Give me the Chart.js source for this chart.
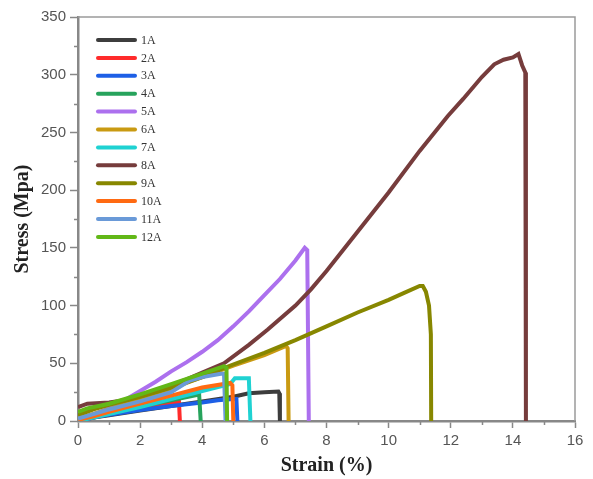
<!DOCTYPE html>
<html>
<head>
<meta charset="utf-8">
<script src="https://cdn.jsdelivr.net/npm/chart.js@4.4.1/dist/chart.umd.min.js"></script>
<style>
html,body{margin:0;padding:0;background:#fff;}
#wrap{width:593px;height:479px;position:relative;}
</style>
</head>
<body>
<div id="wrap"><canvas id="c" width="593" height="479"></canvas></div>
<script>
// ---- data (strain %, stress MPa) ----
const sampleNames = ['1A','2A','3A','4A','5A','6A','7A','8A','9A','10A','11A','12A'];
const curve1A = [[0,0],[0.5,3],[1,5],[2,9],[3,13],[4,17],[5,21],[5.5,24],[6,25],[6.45,25.5],[6.48,24],[6.5,0]];
const curve2A = [[0,0],[0.5,3],[1,6],[2,11],[3,15.5],[3.25,17],[3.28,0]];
const curve3A = [[0,0],[0.5,3],[1,5.5],[2,9.5],[3,13],[4,16],[4.5,18],[5,19],[5.1,19],[5.13,0]];
const curve4A = [[0,0],[0.5,4],[1,7],[2,12.5],[3,18],[3.9,23],[3.95,0]];
const curve5A = [[0,2],[0.5,6],[1,11],[1.5,18],[2,26],[2.5,34],[3,43],[3.5,51],[4,60],[4.5,70],[5,82],[5.5,95],[6,109],[6.5,123],[7,139],[7.3,150],[7.38,148],[7.43,0]];
const curve6A = [[0,2],[1,10],[2,19],[3,28],[4,38],[5,48],[6,57],[6.7,65],[6.75,63],[6.78,0]];
const curve7A = [[0,0],[1,6],[2,12],[3,19],[4,26],[4.9,32],[5.05,37],[5.5,37],[5.55,0]];
const curve8A = [[0,12],[0.3,15],[1,16],[1.5,18],[2,22],[2.5,26],[3,31],[3.5,36],[4,42],[4.7,50],[5.5,66],[6.1,79],[7,100],[7.5,114],[8,130],[9,164],[10,198],[11,234],[11.9,264],[12.4,279],[13,298],[13.4,309],[13.7,313],[14,315],[14.18,318],[14.3,308],[14.4,302],[14.42,0]];
const curve9A = [[0,5],[0.5,10],[1,14],[2,21],[3,29],[4,38],[4.8,47],[6,59],[7,70],[8,82],[9,94],[10,105],[10.5,111],[11,117],[11.1,117],[11.2,112],[11.3,100],[11.36,75],[11.37,0]];
const curve10A = [[0,1],[0.5,4],[1,8],[2,15],[3,22],[4,29],[4.9,33],[4.97,31],[5.0,0]];
const curve11A = [[0,2],[0.5,6],[1,10],[2,17],[3,25],[3.6,35],[4,38],[4.6,41],[4.7,41],[4.75,0]];
const curve12A = [[0,8],[0.3,11],[1,15],[2,23],[3,32],[4,41],[4.7,47.5],[4.78,46],[4.8,0]];
const curves = [curve1A,curve2A,curve3A,curve4A,curve5A,curve6A,curve7A,curve8A,curve9A,curve10A,curve11A,curve12A];
const xTickValues = [0,2,4,6,8,10,12,14,16];
const yTickValues = [0,50,100,150,200,250,300,350];

// ---- styles ----
const seriesColors = ['#3d3d3d','#ff2b2b','#1d5fe6','#27a35c','#ac70ee','#c99a12','#1fd2d2','#763c3c','#878700','#ff6a12','#6a9ad8','#62b817'];

const datasets = curves.map((c, i) => ({
  label: sampleNames[i],
  data: c.map(p => ({x: p[0], y: p[1]})),
  borderColor: seriesColors[i],
  backgroundColor: seriesColors[i],
  borderWidth: 4,
  pointRadius: 0,
  tension: 0,
  fill: false,
  order: curves.length - 1 - i
}));

const framePlugin = {
  id: 'frameAndMinor',
  beforeDatasetsDraw(chart) {
    const ctx = chart.ctx, a = chart.chartArea;
    ctx.save();
    ctx.strokeStyle = '#9a9a9a';
    ctx.lineWidth = 1.5;
    ctx.beginPath();
    ctx.moveTo(a.left, a.top); ctx.lineTo(a.right, a.top); ctx.lineTo(a.right, a.bottom);
    ctx.stroke();
    ctx.restore();
  },
  afterDraw(chart) {
    const ctx = chart.ctx, xs = chart.scales.x, ys = chart.scales.y;
    ctx.save();
    ctx.strokeStyle = '#888';
    ctx.lineWidth = 1.5;
    ctx.beginPath();
    for (let i = 0; i < xTickValues.length - 1; i++) {
      const v = (xTickValues[i] + xTickValues[i+1]) / 2;
      const px = Math.round(xs.getPixelForValue(v)) + 0.5;
      ctx.moveTo(px, xs.top); ctx.lineTo(px, xs.top + 4);
    }
    for (let i = 0; i < yTickValues.length - 1; i++) {
      const v = (yTickValues[i] + yTickValues[i+1]) / 2;
      const py = Math.round(ys.getPixelForValue(v)) + 0.5;
      ctx.moveTo(ys.right, py); ctx.lineTo(ys.right - 4, py);
    }
    ctx.stroke();
    // legend inside plot
    const a = chart.chartArea;
    const x0 = a.left + 20, x1 = a.left + 57, tx = a.left + 63;
    ctx.font = '12px "Liberation Serif", "Times New Roman", serif';
    ctx.textBaseline = 'middle';
    ctx.textAlign = 'left';
    chart.data.datasets.forEach((ds, i) => {
      const y = a.top + 23 + i * 17.9;
      ctx.strokeStyle = ds.borderColor;
      ctx.lineWidth = 4;
      ctx.lineCap = 'round';
      ctx.beginPath(); ctx.moveTo(x0, y); ctx.lineTo(x1, y); ctx.stroke();
      ctx.fillStyle = '#333';
      ctx.fillText(ds.label, tx, y + 0.5);
    });
    ctx.restore();
  }
};

new Chart(document.getElementById('c'), {
  type: 'line',
  data: { datasets },
  plugins: [framePlugin],
  options: {
    responsive: false,
    animation: false,
    devicePixelRatio: 1,
    layout: { padding: { top: 17, right: 18, left: 0, bottom: 0 } },
    plugins: { legend: { display: false }, tooltip: { enabled: false } },
    scales: {
      x: {
        type: 'linear', min: 0, max: 16,
        afterFit: s => { s.height = 58; },
        ticks: { stepSize: 2, color: '#555', padding: 4,
                 font: { family: '"Liberation Sans", Arial, sans-serif', size: 15 } },
        grid: { drawOnChartArea: false, drawTicks: true, tickLength: 7, tickColor: '#888', tickWidth: 1.5 },
        border: { color: '#888', width: 2.5 },
        title: { display: true, text: 'Strain (%)', color: '#222',
                 font: { family: '"Liberation Serif", "Times New Roman", serif', size: 20, weight: 'bold' },
                 padding: { top: 0, bottom: 1 } }
      },
      y: {
        type: 'linear', min: 0, max: 350,
        afterFit: s => { s.width = 78; },
        ticks: { stepSize: 50, color: '#555', padding: 4,
                 font: { family: '"Liberation Sans", Arial, sans-serif', size: 15 } },
        grid: { drawOnChartArea: false, drawTicks: true, tickLength: 8, tickColor: '#888', tickWidth: 1.5 },
        border: { color: '#888', width: 2.5 },
        title: { display: true, text: 'Stress (Mpa)', color: '#222',
                 font: { family: '"Liberation Serif", "Times New Roman", serif', size: 20, weight: 'bold' },
                 padding: { top: 11, bottom: 0 } }
      }
    }
  }
});
</script>
</body>
</html>
